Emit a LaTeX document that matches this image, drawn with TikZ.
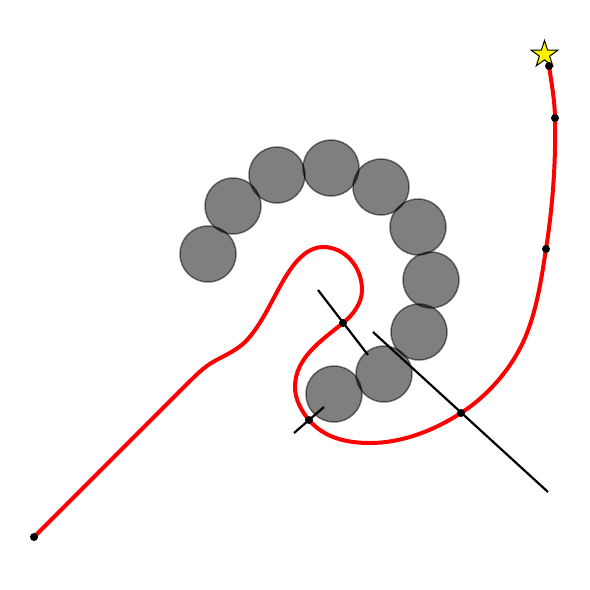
\documentclass[tikz,border=0pt]{standalone}
\usepackage{tikz}
\usetikzlibrary{shapes.geometric}
\tikzset{
  bead/.style={
    circle, draw=black, fill=black, opacity=0.5,
    line width=1.5pt, minimum size=56pt, inner sep=0pt
  },
  pathdot/.style={circle, fill=black, minimum size=8pt, inner sep=0pt},
  trail/.style={red, line width=4pt, line join=round},
  normalline/.style={black, line width=2.2pt},
  goalstar/.style={
    star, star points=5, star point ratio=2.6, draw=black, fill=yellow,
    line width=1pt, minimum size=28pt, inner sep=0pt
  },
}

\begin{document}
\begin{tikzpicture}[x=1pt, y=-1pt]

  \useasboundingbox (0,0) rectangle (590,590);

  % ── Obstacle beads ──
  \foreach \cx/\cy [count=\i] in {208/254, 233/206, 277/175, 331/168, 381/187,
                                  418/227, 431/280, 419/332, 384/374, 334/394} {
    \node[bead] (b\i) at (\cx,\cy) {};
  }

  % ── Points on the trail ──
  \coordinate (p0) at (34,537);
  \coordinate (p1) at (343,323);
  \coordinate (p2) at (309,420);
  \coordinate (p3) at (461,413);
  \coordinate (p4) at (546,249);
  \coordinate (p5) at (555,118);
  \coordinate (p6) at (549,66);

  % ── Trail ──
  \draw[trail] (p0) -- (188,383)
    .. controls (195.8,375.4) and (203.5,367.4) .. (213,362)
    .. controls (224.7,355.3) and (237.9,350.0) .. (247,340)
    .. controls (265.4,319.7) and (274.5,292.6) .. (290,270)
    .. controls (297.9,258.5) and (309,247) .. (323,247)
    .. controls (344.5,247) and (362,266.3) .. (362,290)
    .. controls (362,303) and (353.1,314.8) .. (p1)
    .. controls (320.6,341.1) and (295,358.2) .. (295,387)
    .. controls (295,399) and (301.2,410.9) .. (p2)
    .. controls (324.2,437.9) and (346.5,443) .. (370,443)
    .. controls (402,443) and (434.2,430.4) .. (p3)
    .. controls (490,394.2) and (514.4,365.2) .. (527,333)
    .. controls (537.4,306.3) and (541.6,277.4) .. (p4)
    .. controls (552.8,205.7) and (555.9,161.8) .. (p5)
    .. controls (554.7,100.6) and (551.6,83.2) .. (p6);

  % ── Normal segments ──
  \coordinate (n1a) at (318,290);
  \coordinate (n1b) at (368,355);
  \coordinate (n2a) at (373,332);
  \coordinate (n2b) at (548,492);
  \coordinate (n3a) at (294,433);
  \coordinate (n3b) at (324,407);
  \draw[normalline] (n1a) -- (n1b);
  \draw[normalline] (n2a) -- (n2b);
  \draw[normalline] (n3a) -- (n3b);

  % ── Goal ──
  \node[goalstar] (goal) at (544.5,54.5) {};

  % ── Dots ──
  \foreach \i in {0,...,6} {
    \node[pathdot] (d\i) at (p\i) {};
  }

\end{tikzpicture}
\end{document}
